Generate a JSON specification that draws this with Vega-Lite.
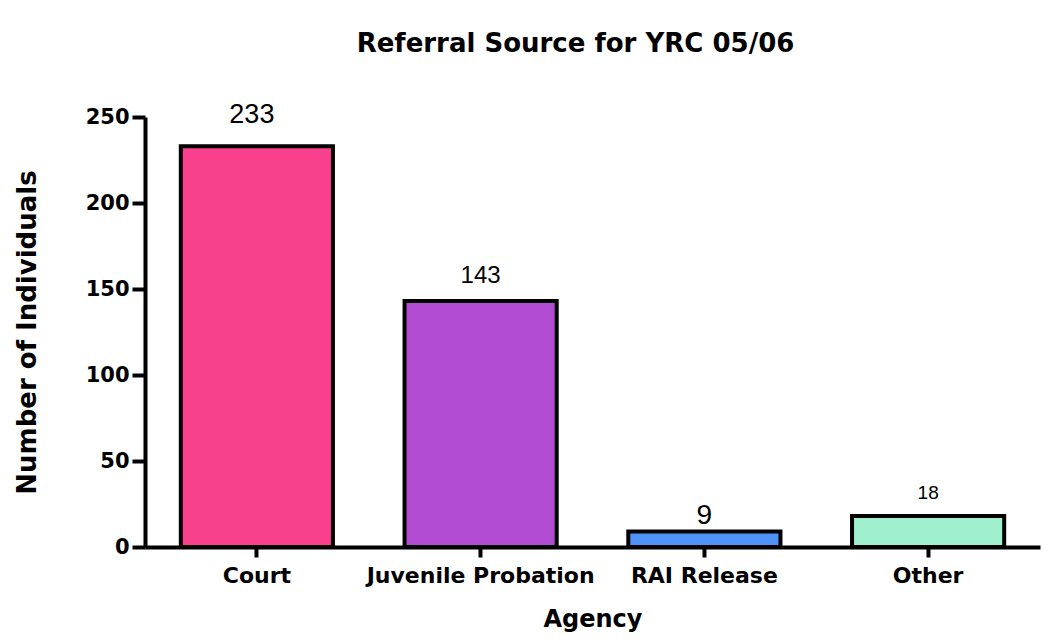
{
  "$schema": "https://vega.github.io/schema/vega-lite/v6.json",
  "autosize": {"type": "none"},
  "padding": {"left": 145, "top": 117, "right": 4, "bottom": 92},
  "width": 895,
  "height": 430,
  "background": "white",
  "title": {
    "text": "Referral Source for YRC 05/06",
    "font": "DejaVu Sans",
    "fontSize": 26,
    "fontWeight": "bold",
    "color": "black",
    "anchor": "middle",
    "dx": -17,
    "offset": 44
  },
  "data": {
    "values": [
      {"agency": "Court", "count": 233},
      {"agency": "Juvenile Probation", "count": 143},
      {"agency": "RAI Release", "count": 9},
      {"agency": "Other", "count": 18}
    ]
  },
  "encoding": {
    "x": {
      "field": "agency",
      "type": "nominal",
      "sort": null,
      "scale": {"paddingInner": 0.32, "paddingOuter": 0.16},
      "axis": {
        "title": "Agency",
        "labelAngle": 0,
        "labelLimit": 0,
        "labelOverlap": false,
        "labelFont": "DejaVu Sans",
        "labelFontSize": 22,
        "labelFontWeight": "bold",
        "labelColor": "black",
        "labelPadding": 8,
        "titleFont": "DejaVu Sans",
        "titleFontSize": 24,
        "titleFontWeight": "bold",
        "titleColor": "black",
        "titlePadding": 21,
        "domainColor": "black",
        "domainWidth": 4,
        "tickColor": "black",
        "tickWidth": 4,
        "tickSize": 10
      }
    },
    "y": {
      "field": "count",
      "type": "quantitative",
      "scale": {"domain": [0, 250], "nice": false},
      "axis": {
        "title": "Number of Individuals",
        "values": [0, 50, 100, 150, 200, 250],
        "grid": false,
        "labelFont": "DejaVu Sans",
        "labelFontSize": 21,
        "labelFontWeight": "bold",
        "labelColor": "black",
        "labelPadding": 3,
        "titleFont": "DejaVu Sans",
        "titleFontSize": 26,
        "titleFontWeight": "bold",
        "titleColor": "black",
        "titlePadding": 45,
        "domainColor": "black",
        "domainWidth": 4,
        "tickColor": "black",
        "tickWidth": 4,
        "tickSize": 13
      }
    }
  },
  "layer": [
    {
      "mark": {"type": "bar", "stroke": "black", "strokeWidth": 4},
      "encoding": {
        "color": {
          "field": "agency",
          "type": "nominal",
          "legend": null,
          "scale": {
            "domain": ["Court", "Juvenile Probation", "RAI Release", "Other"],
            "range": ["#F9408C", "#B24CD2", "#4F93F8", "#A0EFCF"]
          }
        }
      }
    },
    {
      "transform": [{"filter": "datum.agency === 'Court'"}],
      "mark": {"type": "text", "baseline": "alphabetic", "font": "Liberation Sans", "color": "black", "fontSize": 27, "dy": -23, "dx": -5},
      "encoding": {"text": {"field": "count", "type": "quantitative"}}
    },
    {
      "transform": [{"filter": "datum.agency === 'Juvenile Probation'"}],
      "mark": {"type": "text", "baseline": "alphabetic", "font": "Liberation Sans", "color": "black", "fontSize": 24, "dy": -18},
      "encoding": {"text": {"field": "count", "type": "quantitative"}}
    },
    {
      "transform": [{"filter": "datum.agency === 'RAI Release'"}],
      "mark": {"type": "text", "baseline": "alphabetic", "font": "Liberation Sans", "color": "black", "fontSize": 28, "dy": -8},
      "encoding": {"text": {"field": "count", "type": "quantitative"}}
    },
    {
      "transform": [{"filter": "datum.agency === 'Other'"}],
      "mark": {"type": "text", "baseline": "alphabetic", "font": "Liberation Sans", "color": "black", "fontSize": 19, "dy": -17},
      "encoding": {"text": {"field": "count", "type": "quantitative"}}
    }
  ],
  "config": {"view": {"stroke": null}}
}
